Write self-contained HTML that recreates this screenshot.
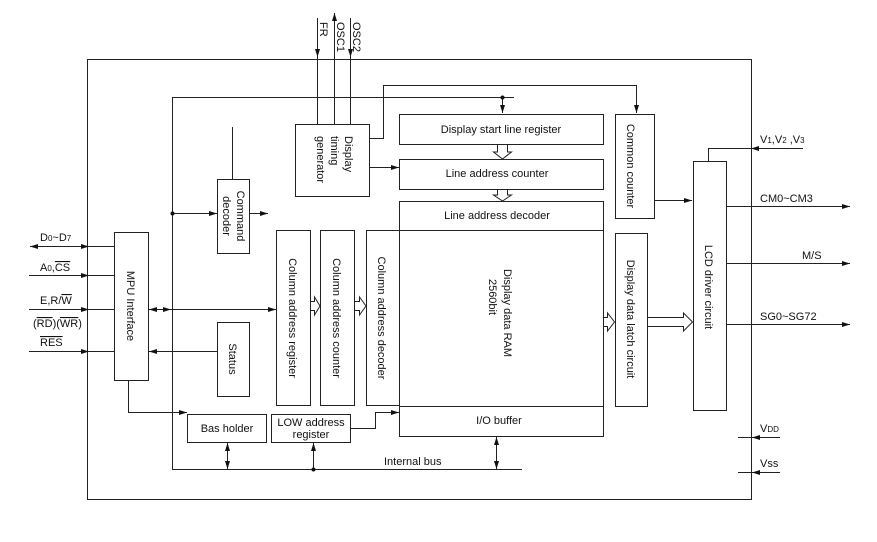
<!DOCTYPE html>
<html><head><meta charset="utf-8"><style>
html,body{margin:0;padding:0;background:#fff;}
svg{display:block;}
text{font-family:"Liberation Sans",Arial,sans-serif;font-size:11px;fill:#111;}
</style></head><body>
<svg width="877" height="542" viewBox="0 0 877 542" xmlns="http://www.w3.org/2000/svg">
<defs>
<marker id="a" markerWidth="8" markerHeight="6" refX="8" refY="3" orient="auto" markerUnits="userSpaceOnUse"><path d="M0,0.5 L8,3 L0,5.5 z" fill="#111"/></marker>
<marker id="b" markerWidth="8" markerHeight="6" refX="0" refY="3" orient="auto" markerUnits="userSpaceOnUse"><path d="M8,0.5 L0,3 L8,5.5 z" fill="#111"/></marker>
</defs>
<g fill="none" stroke="#222" stroke-width="1">
<rect x="87.5" y="59.5" width="664" height="440"/>
<polyline points="514,97.5 172.5,97.5 172.5,469.5 522,469.5"/>
<line x1="502.5" y1="97" x2="502.5" y2="113" marker-end="url(#a)"/>
<rect x="295.5" y="124.5" width="74" height="72"/>
<line x1="317.5" y1="18" x2="317.5" y2="57" marker-end="url(#a)"/>
<line x1="317.5" y1="57" x2="317.5" y2="124"/>
<line x1="334.5" y1="124" x2="334.5" y2="13" marker-end="url(#a)"/>
<line x1="350.5" y1="18" x2="350.5" y2="57" marker-end="url(#a)"/>
<line x1="350.5" y1="57" x2="350.5" y2="124"/>
<polyline points="369,138.5 383.5,138.5 383.5,85.5 636.5,85.5 636.5,113" marker-end="url(#a)"/>
<line x1="369" y1="167.5" x2="399" y2="167.5" marker-end="url(#a)"/>
<rect x="399.5" y="114.5" width="204" height="30"/>
<rect x="399.5" y="159.5" width="204" height="30"/>
<rect x="399.5" y="201.5" width="204" height="29"/>
<rect x="399.5" y="230.5" width="204" height="206"/>
<line x1="399" y1="406.5" x2="604" y2="406.5"/>
<path d="M497.5,144 V152 H493.5 L502.5,159 L511.5,152 H507.5 V144"/>
<path d="M497.5,189 V195 H493.5 L502.5,201 L511.5,195 H507.5 V189"/>
<rect x="615.5" y="114.5" width="39" height="104"/>
<line x1="654" y1="200.5" x2="692" y2="200.5" marker-end="url(#a)"/>
<rect x="615.5" y="233.5" width="32" height="173"/>
<rect x="693.5" y="161.5" width="33" height="249"/>
<path d="M603,317.5 H607.5 V313 L614.5,322 L607.5,331 V326.5 H603"/>
<path d="M647,317.5 H683.5 V313 L692.5,322 L683.5,331 V326.5 H647"/>
<polyline points="708.5,161 708.5,148.5 803,148.5"/>
<line x1="770" y1="148.5" x2="751" y2="148.5" marker-end="url(#a)"/>
<line x1="727" y1="206.5" x2="850" y2="206.5" marker-end="url(#a)"/>
<line x1="727" y1="263.5" x2="850" y2="263.5" marker-end="url(#a)"/>
<line x1="727" y1="324.5" x2="850" y2="324.5" marker-end="url(#a)"/>
<line x1="780" y1="437.5" x2="738" y2="437.5"/>
<line x1="770" y1="437.5" x2="752" y2="437.5" marker-end="url(#a)"/>
<line x1="780" y1="472.5" x2="738" y2="472.5"/>
<line x1="770" y1="472.5" x2="752" y2="472.5" marker-end="url(#a)"/>
<rect x="217.5" y="179.5" width="32" height="74"/>
<line x1="232.5" y1="127" x2="232.5" y2="179"/>
<line x1="172" y1="213.5" x2="217" y2="213.5" marker-end="url(#a)"/>
<line x1="249" y1="213.5" x2="268" y2="213.5" marker-end="url(#a)"/>
<rect x="114.5" y="232.5" width="34" height="148"/>
<line x1="30" y1="246.5" x2="114" y2="246.5" marker-start="url(#b)"/>
<line x1="80" y1="246.5" x2="89" y2="246.5" marker-end="url(#a)"/>
<line x1="29" y1="275.5" x2="89" y2="275.5" marker-end="url(#a)"/>
<line x1="89" y1="275.5" x2="114" y2="275.5"/>
<line x1="29" y1="309.5" x2="89" y2="309.5" marker-end="url(#a)"/>
<line x1="89" y1="309.5" x2="114" y2="309.5"/>
<line x1="29" y1="351.5" x2="89" y2="351.5" marker-end="url(#a)"/>
<line x1="89" y1="351.5" x2="114" y2="351.5"/>
<line x1="149" y1="309.5" x2="276" y2="309.5" marker-start="url(#b)" marker-end="url(#a)"/>
<line x1="160" y1="309.5" x2="171" y2="309.5" marker-end="url(#a)"/>
<rect x="217.5" y="322.5" width="32" height="74"/>
<line x1="217" y1="351.5" x2="149" y2="351.5" marker-end="url(#a)"/>
<rect x="276.5" y="230.5" width="34" height="175"/>
<rect x="320.5" y="230.5" width="34" height="175"/>
<rect x="366.5" y="230.5" width="33" height="175"/>
<path d="M310,301.5 H314.5 V297 L320,306 L314.5,315 V310.5 H310"/>
<path d="M354,301.5 H359.5 V297 L366,306 L359.5,315 V310.5 H354"/>
<polyline points="128.5,380 128.5,412.5 187,412.5" marker-end="url(#a)"/>
<rect x="187.5" y="414.5" width="79" height="28"/>
<rect x="271.5" y="414.5" width="79" height="28"/>
<polyline points="350,428.5 375.5,428.5 375.5,412.5 399,412.5" marker-end="url(#a)"/>
<line x1="227.5" y1="443" x2="227.5" y2="469" marker-start="url(#b)" marker-end="url(#a)"/>
<line x1="313.5" y1="469" x2="313.5" y2="443" marker-end="url(#a)"/>
<line x1="496.5" y1="437" x2="496.5" y2="469" marker-start="url(#b)" marker-end="url(#a)"/>
</g>
<g fill="#111">
<circle cx="502.5" cy="97.5" r="2"/>
<circle cx="172.5" cy="213.5" r="2"/>
<circle cx="313.5" cy="469.5" r="2"/>
</g>
<text transform="translate(320,22) rotate(90)">FR</text>
<text transform="translate(337,22) rotate(90)">OSC1</text>
<text transform="translate(353,22) rotate(90)">OSC2</text>
<text transform="translate(345,136) rotate(90)">Display</text>
<text transform="translate(331,136) rotate(90)">timing</text>
<text transform="translate(317,136) rotate(90)">generator</text>
<text x="501" y="133" text-anchor="middle">Display start line register</text>
<text x="497" y="177" text-anchor="middle">Line address counter</text>
<text x="497" y="219" text-anchor="middle">Line address decoder</text>
<text transform="translate(504,313) rotate(90)" text-anchor="middle">Display data RAM</text>
<text transform="translate(489,297) rotate(90)" text-anchor="middle">2560bit</text>
<text x="499" y="424" text-anchor="middle">I/O buffer</text>
<text transform="translate(627,166) rotate(90)" text-anchor="middle">Common counter</text>
<text transform="translate(627,319) rotate(90)" text-anchor="middle">Display data latch circuit</text>
<text transform="translate(705,287) rotate(90)" text-anchor="middle">LCD driver circuit</text>
<text transform="translate(237,216) rotate(90)" text-anchor="middle">Command</text>
<text transform="translate(223,216) rotate(90)" text-anchor="middle">decoder</text>
<text transform="translate(127,306) rotate(90)" text-anchor="middle">MPU Interface</text>
<text transform="translate(229,359) rotate(90)" text-anchor="middle">Status</text>
<text transform="translate(289,318) rotate(90)" text-anchor="middle">Column address register</text>
<text transform="translate(333,318) rotate(90)" text-anchor="middle">Column address counter</text>
<text transform="translate(378,318) rotate(90)" text-anchor="middle">Column address decoder</text>
<text x="227" y="432" text-anchor="middle">Bas holder</text>
<text x="311" y="426" text-anchor="middle">LOW address</text>
<text x="311" y="438" text-anchor="middle">register</text>
<text x="384" y="465">Internal bus</text>
<text x="40" y="241">D<tspan font-size="8">0</tspan>~D<tspan font-size="8">7</tspan></text>
<text x="40" y="271">A<tspan font-size="8">0</tspan>,<tspan text-decoration="overline">CS</tspan></text>
<text x="40" y="304">E,R/<tspan text-decoration="overline">W</tspan></text>
<text x="33" y="327">(<tspan text-decoration="overline">RD</tspan>)(<tspan text-decoration="overline">WR</tspan>)</text>
<text x="40" y="346" text-decoration="overline">RES</text>
<text x="760" y="143">V<tspan font-size="8">1</tspan>,V<tspan font-size="8">2</tspan> ,V<tspan font-size="8">3</tspan></text>
<text x="760" y="202">CM0~CM3</text>
<text x="802" y="259">M/S</text>
<text x="760" y="320">SG0~SG72</text>
<text x="760" y="432">V<tspan font-size="8">DD</tspan></text>
<text x="760" y="467">Vss</text>
</svg>
</body></html>
